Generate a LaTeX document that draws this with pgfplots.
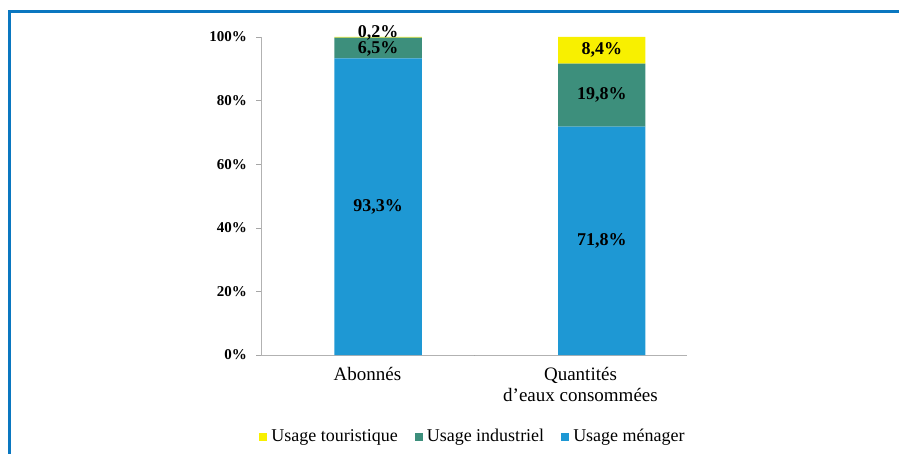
\documentclass[border=0pt]{standalone}
\usepackage{fontspec}
\setmainfont{Liberation Serif}
\usepackage{pgfplots}
\pgfplotsset{compat=1.18}
\definecolor{menager}{HTML}{1E98D4}
\definecolor{industriel}{HTML}{3D8F7C}
\definecolor{touristique}{HTML}{F8F000}
\definecolor{cadre}{HTML}{0A77C0}
\tikzset{lbl/.style={font=\fontsize{9}{10}\selectfont\bfseries}}
\begin{document}
\begin{tikzpicture}
\path[use as bounding box] (0,0) rectangle (449.5pt,-227pt);
\draw[cadre, line width=1.5pt] (4.5pt,-227pt) -- (4.5pt,-6pt) -- (449.5pt,-6pt);
\begin{axis}[
    at={(130.5pt,-177.5pt)}, anchor=south west,
    scale only axis, width=213pt, height=159pt,
    ybar stacked, bar width=0.41,
    xmin=-0.5, xmax=1.5, ymin=0, ymax=100,
    axis x line*=bottom, axis y line*=left,
    axis line style={gray!60, thin},
    tick align=outside, major tick length=2.5pt,
    ytick={0,20,...,100},
    yticklabel={\pgfmathprintnumber{\tick}\%},
    yticklabel style={font=\fontsize{7.5}{8}\selectfont\bfseries, xshift=-1pt,
        /pgf/number format/assume math mode=true},
    ytick style={gray!70},
    xtick={0,1},
    xticklabels={Abonnés, {Quantités\\d'eaux consommées}},
    xticklabel style={align=center, font=\fontsize{9.5}{10.5}\selectfont},
    xtick style={draw=none},
    reverse legend,
    legend style={at={(0.5,-0.258)}, anchor=center, legend columns=3, draw=none,
        font=\fontsize{9}{10}\selectfont,
        /tikz/every even column/.append style={column sep=6.5pt}},
    legend image code/.code={\fill[#1] (0pt,-2pt) rectangle (4pt,2pt);},
]
\addplot[fill=menager, draw=none] coordinates {(0.05,93.3) (1.1,71.8)};
\addlegendentry{Usage ménager}
\addplot[fill=industriel, draw=none] coordinates {(0.05,6.5) (1.1,19.8)};
\addlegendentry{Usage industriel}
\addplot[fill=touristique, draw=none] coordinates {(0.05,0.2) (1.1,8.4)};
\addlegendentry{Usage touristique}
\draw[gray!70] (axis cs:0.5,0) -- ++(0pt,-2.5pt);
\coordinate (a1) at (axis cs:0.05,46.6);
\coordinate (a2) at (axis cs:0.05,96.3);
\coordinate (a3) at (axis cs:0.05,101.2);
\coordinate (b1) at (axis cs:1.1,35.9);
\coordinate (b2) at (axis cs:1.1,81.7);
\coordinate (b3) at (axis cs:1.1,95.8);
\end{axis}
\node[lbl] at (a1) {93,3\%};
\node[lbl] at (a2) {6,5\%};
\node[lbl] at (a3) {0,2\%};
\node[lbl] at (b1) {71,8\%};
\node[lbl] at (b2) {19,8\%};
\node[lbl] at (b3) {8,4\%};
\end{tikzpicture}
\end{document}
